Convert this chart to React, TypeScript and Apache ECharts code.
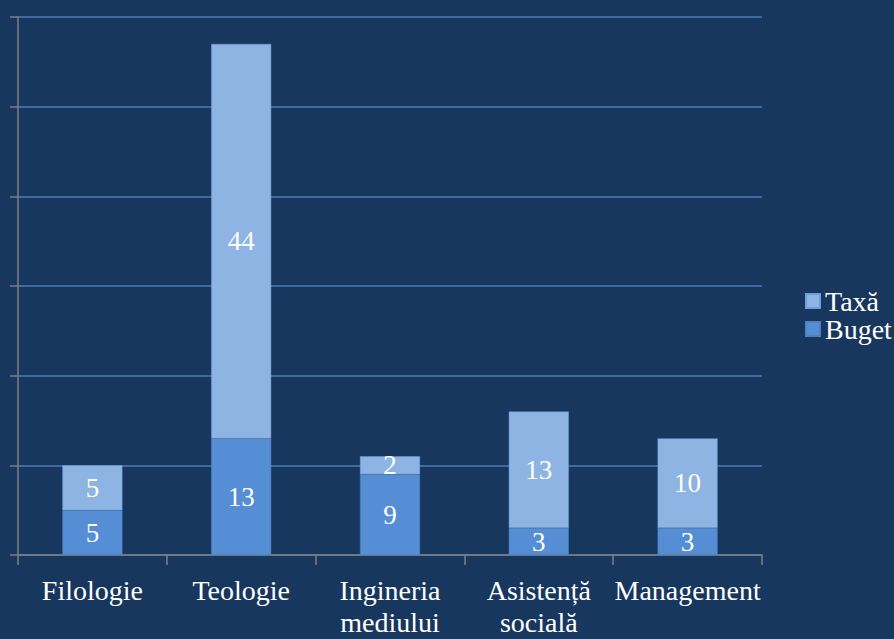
import React, { useEffect, useRef } from "react";
import * as echarts from "echarts";

const categories = ["Filologie", "Teologie", "Ingineria\nmediului", "Asistență\nsocială", "Management"];
const buget = [5, 13, 9, 3, 3];
const taxa = [5, 44, 2, 13, 10];

export default function App() {
  const ref = useRef<HTMLDivElement>(null);
  useEffect(() => {
    const chart = echarts.init(ref.current!, undefined, { renderer: "svg" });
    const font = "Liberation Serif";
    const labelStyle = {
      show: true,
      position: "inside" as const,
      color: "#ffffff",
      fontSize: 27,
      fontFamily: font,
    };
    chart.setOption({
      animation: false,
      backgroundColor: "#17375E",
      textStyle: { fontFamily: font },
      grid: { left: 18, right: 132, top: 17, bottom: 84, containLabel: false },
      legend: {
        orient: "vertical",
        left: 800,
        top: 282,
        itemWidth: 14,
        itemHeight: 14,
        itemGap: 0,
        icon: "rect",
        data: ["Taxă", "Buget"],
        textStyle: { color: "#ffffff", fontSize: 28, fontFamily: font },
      },
      xAxis: {
        type: "category",
        data: categories,
        axisLine: { lineStyle: { color: "#7F7F7F", width: 1.5 } },
        axisTick: { show: true, length: 10, alignWithLabel: false, lineStyle: { color: "#7F7F7F", width: 1.5 } },
        axisLabel: {
          color: "#ffffff",
          fontSize: 28,
          fontFamily: font,
          margin: 19,
          lineHeight: 32,
          interval: 0,
        },
      },
      yAxis: {
        type: "value",
        min: 0,
        max: 60,
        interval: 10,
        axisLine: { show: true, lineStyle: { color: "#7F7F7F", width: 1.5 } },
        axisTick: { show: true, length: 8, lineStyle: { color: "#7F7F7F", width: 1.5 } },
        axisLabel: { show: false },
        splitLine: { lineStyle: { color: "#4A7EBB", width: 1.5 } },
      },
      series: [
        {
          name: "Buget",
          type: "bar",
          stack: "total",
          data: buget,
          barWidth: 60,
          itemStyle: { color: "#558ED5", borderColor: "#4F81BD", borderWidth: 0.5 },
          label: labelStyle,
        },
        {
          name: "Taxă",
          type: "bar",
          stack: "total",
          data: taxa,
          barWidth: 60,
          itemStyle: { color: "#8EB4E3", borderColor: "#6F9FD8", borderWidth: 0.5 },
          label: labelStyle,
        },
      ],
    });
    return () => chart.dispose();
  }, []);
  return <div ref={ref} style={{ position: "fixed", left: 0, top: 0, width: 894, height: 639 }} />;
}
